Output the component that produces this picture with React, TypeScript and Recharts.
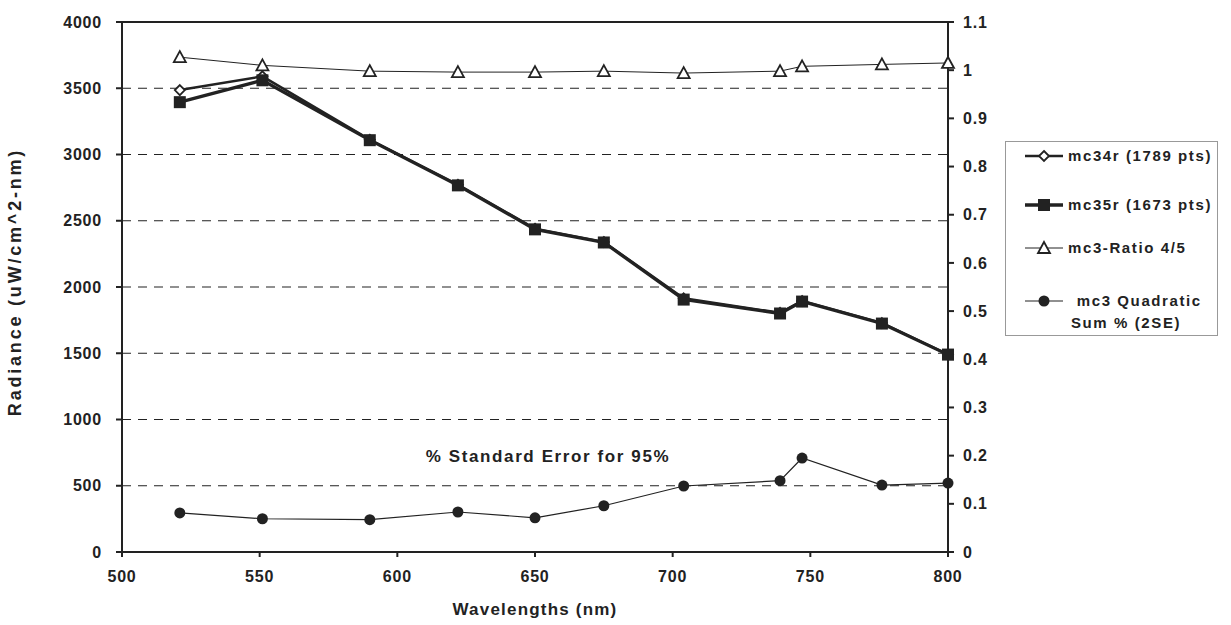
import React from "react";
import {
  ComposedChart,
  Line,
  XAxis,
  YAxis,
  CartesianGrid,
  ReferenceLine,
  Customized,
} from "recharts";

const wavelengths = [521, 551, 590, 622, 650, 675, 704, 739, 747, 776, 800];
const mc34r = [3486, 3590, 3112, 2772, 2440, 2340, 1915, 1805, 1895, 1728, 1492];
const mc35r = [3395, 3560, 3108, 2767, 2435, 2336, 1905, 1800, 1890, 1724, 1490];
const ratio45 = [1.027, 1.01, 0.998, 0.996, 0.996, 0.998, 0.994, 0.998, 1.008, 1.012, 1.015];
const quadSum = [0.081, 0.069, 0.067, 0.083, 0.071, 0.096, 0.137, 0.148, 0.195, 0.139, 0.143];

const xTicks = [500, 550, 600, 650, 700, 750, 800];
const leftTicks = [0, 500, 1000, 1500, 2000, 2500, 3000, 3500, 4000];
const rightTicks = [0, 0.1, 0.2, 0.3, 0.4, 0.5, 0.6, 0.7, 0.8, 0.9, 1, 1.1];

const INK = "#222";
const FONT = "'Liberation Sans', Arial, sans-serif";

const data = wavelengths.map((w, i) => ({
  w,
  mc34r: mc34r[i],
  mc35r: mc35r[i],
  ratio: ratio45[i],
  quad: quadSum[i],
}));

const Diamond = ({ cx, cy }: any) => (
  <polygon
    points={`${cx},${cy - 5} ${cx + 5},${cy} ${cx},${cy + 5} ${cx - 5},${cy}`}
    fill="#fff"
    stroke={INK}
    strokeWidth={1.8}
  />
);
const Square = ({ cx, cy }: any) => (
  <rect x={cx - 6} y={cy - 6} width={12} height={12} fill={INK} />
);
const Triangle = ({ cx, cy }: any) => (
  <polygon
    points={`${cx},${cy - 6} ${cx + 6},${cy + 5} ${cx - 6},${cy + 5}`}
    fill="#fff"
    stroke={INK}
    strokeWidth={1.8}
  />
);
const Circle = ({ cx, cy }: any) => <circle cx={cx} cy={cy} r={5.5} fill={INK} />;

const legendItems = [
  { label: ["mc34r (1789 pts)"], Marker: Diamond, width: 2.5 },
  { label: ["mc35r (1673 pts)"], Marker: Square, width: 3.5 },
  { label: ["mc3-Ratio 4/5"], Marker: Triangle, width: 1 },
  { label: [" mc3 Quadratic", "Sum % (2SE)"], Marker: Circle, width: 1.2 },
];

const LegendBox = () => (
  <svg width={214} height={196} style={{ position: "absolute", left: 1005, top: 141 }}>
    <rect x={0.5} y={0.5} width={212} height={194} fill="#fff" stroke="#999" strokeWidth={1} />
    {legendItems.map((it, i) => {
      const y = [15, 64, 107, 160][i];
      const M = it.Marker;
      return (
        <g key={i}>
          <line x1={20} x2={58} y1={y} y2={y} stroke={INK} strokeWidth={it.width} />
          <M cx={39} cy={y} />
          {it.label.map((t, j) => (
            <text
              key={j}
              x={i === 3 ? 66 : 63}
              y={y + 5 + j * 22}
              fontFamily={FONT}
              fontWeight="bold"
              fontSize={15}
              letterSpacing={1.6}
              fill={INK}
              style={{ whiteSpace: "pre" }}
            >
              {t}
            </text>
          ))}
        </g>
      );
    })}
  </svg>
);

const YTitle = () => (
  <text
    x={21}
    y={282}
    transform="rotate(-90 21 282)"
    textAnchor="middle"
    fontFamily={FONT}
    fontWeight="bold"
    fontSize={18}
    letterSpacing={2.8}
    fill={INK}
  >
    Radiance (uW/cm^2-nm)
  </text>
);

const Note = () => (
  <text
    x={548}
    y={462}
    textAnchor="middle"
    fontFamily={FONT}
    fontWeight="bold"
    fontSize={17}
    letterSpacing={1.6}
    fill={INK}
  >
    % Standard Error for 95%
  </text>
);

const tickStyle = { fontFamily: FONT, fontWeight: "bold", fontSize: 16, fill: INK, letterSpacing: 0.8 };

export default function App() {
  return (
    <div style={{ position: "absolute", left: 0, top: 0, width: 1231, height: 625, background: "#fff" }}>
      <ComposedChart
        width={1231}
        height={625}
        data={data}
        margin={{ top: 22, right: 233, bottom: 0, left: 0 }}
      >
        <CartesianGrid
          yAxisId="left"
          vertical={false}
          horizontalValues={[500, 1000, 1500, 2000, 2500, 3000, 3500]}
          stroke={INK}
          strokeDasharray="9 7"
          strokeWidth={1.2}
        />
        <XAxis
          dataKey="w"
          type="number"
          domain={[500, 800]}
          ticks={xTicks}
          stroke={INK}
          strokeWidth={2}
          tickSize={5}
          tick={tickStyle}
          tickMargin={14}
          height={73}
          label={{
            value: "Wavelengths (nm)",
            position: "insideBottom",
            offset: 10,
            style: { ...tickStyle, fontSize: 17, letterSpacing: 1.2 },
          }}
        />
        <YAxis
          yAxisId="left"
          domain={[0, 4000]}
          ticks={leftTicks}
          stroke={INK}
          strokeWidth={2}
          tickSize={6}
          tick={tickStyle}
          tickMargin={14}
          width={122}
          label={<YTitle />}
        />
        <YAxis
          yAxisId="right"
          orientation="right"
          domain={[0, 1.1]}
          ticks={rightTicks}
          stroke={INK}
          strokeWidth={2}
          tickSize={6}
          tick={tickStyle}
          tickMargin={9}
          width={50}
        />
        <ReferenceLine yAxisId="left" y={4000} stroke={INK} strokeWidth={2} />
        <Line
          yAxisId="left"
          dataKey="mc34r"
          stroke={INK}
          strokeWidth={2.5}
          dot={<Diamond />}
          isAnimationActive={false}
        />
        <Line
          yAxisId="left"
          dataKey="mc35r"
          stroke={INK}
          strokeWidth={3.2}
          dot={<Square />}
          isAnimationActive={false}
        />
        <Line
          yAxisId="right"
          dataKey="ratio"
          stroke={INK}
          strokeWidth={1}
          dot={<Triangle />}
          isAnimationActive={false}
        />
        <Line
          yAxisId="right"
          dataKey="quad"
          stroke={INK}
          strokeWidth={1.2}
          dot={<Circle />}
          isAnimationActive={false}
        />
        <Customized component={Note} />
      </ComposedChart>
      <LegendBox />
    </div>
  );
}
